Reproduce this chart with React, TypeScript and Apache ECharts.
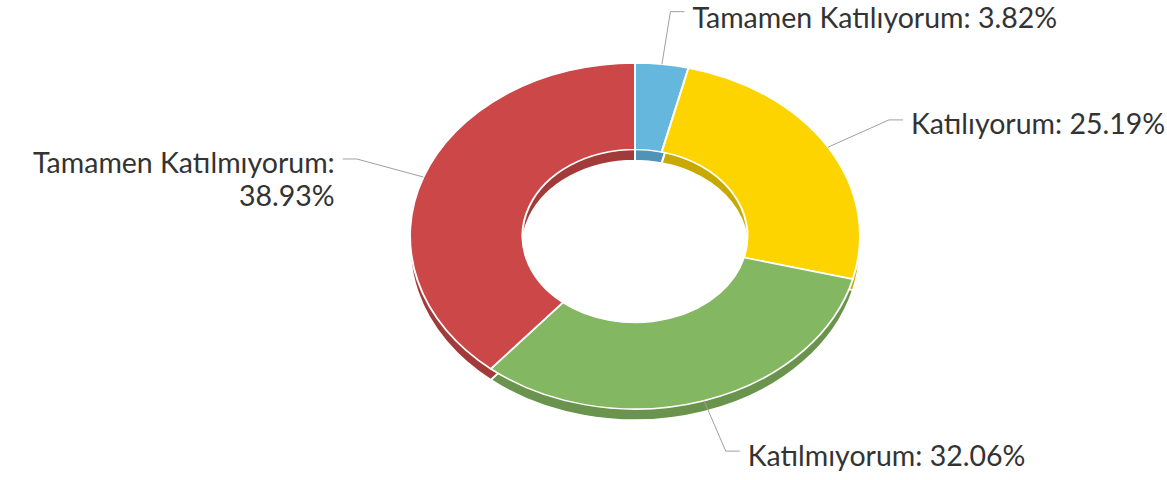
import React, { useEffect, useRef } from "react";
import * as echarts from "echarts";

const categories = ["Tamamen Katılıyorum", "Katılıyorum", "Katılmıyorum", "Tamamen Katılmıyorum"];
const values = [3.82, 25.19, 32.06, 38.93];
const topColors = ["#65b7de", "#fdd400", "#84b761", "#cc4748"];
const sideColors = ["#4f94b6", "#c9a900", "#6a944e", "#a33a3a"];

const W = 1167;
const H = 480;
const CX = 635;
const CY = 236;
const RX = 225;
const RY = 173;
const INNER = 0.5;
const DEPTH = 11;
const LRX = 296;
const LRY = 226;
const SEG = 14;
const GAP = 8;
const FONT_SIZE = 28.5;
const LINE_H = 33;
const FONT_FAMILY = "Lato";

const total = values.reduce((a, b) => a + b, 0);
const starts: number[] = [];
{
  let acc = 0;
  for (const v of values) {
    starts.push(acc);
    acc += v;
  }
}

let measureCtx: CanvasRenderingContext2D | null = null;
function measure(t: string): number {
  if (!measureCtx) {
    measureCtx = document.createElement("canvas").getContext("2d");
  }
  if (!measureCtx) return t.length * FONT_SIZE * 0.5;
  measureCtx.font = `${FONT_SIZE}px ${FONT_FAMILY}`;
  return measureCtx.measureText(t).width;
}

function wrap(t: string, avail: number): string {
  if (measure(t) <= avail) return t;
  const words = t.split(" ");
  const lines: string[] = [];
  let cur = "";
  for (const w of words) {
    const next = cur ? cur + " " + w : w;
    if (cur && measure(next) > avail) {
      lines.push(cur);
      cur = w;
    } else {
      cur = next;
    }
  }
  if (cur) lines.push(cur);
  return lines.join("\n");
}

function angles(i: number) {
  const a0 = (starts[i] / total) * Math.PI * 2;
  const a1 = ((starts[i] + values[i]) / total) * Math.PI * 2;
  return { a0, a1 };
}

function sectorGroup(i: number, offset: number, fill: string) {
  const { a0, a1 } = angles(i);
  const k = RY / RX;
  return {
    type: "group",
    x: CX,
    y: CY + offset,
    scaleY: k,
    children: [
      {
        type: "sector",
        shape: {
          cx: 0,
          cy: 0,
          r: RX,
          r0: RX * INNER,
          startAngle: -Math.PI / 2 + a0,
          endAngle: -Math.PI / 2 + a1,
          clockwise: true,
        },
        style: { fill, stroke: "#ffffff", lineWidth: 2, strokeNoScale: true },
      },
    ],
  };
}

export default function App() {
  const ref = useRef<HTMLDivElement>(null);
  useEffect(() => {
    if (!ref.current) return;
    const chart = echarts.init(ref.current, undefined, { renderer: "svg" });
    const data = values.map((v, i) => ({ name: categories[i], value: v }));
    chart.setOption({
      animation: false,
      series: [
        {
          type: "custom",
          coordinateSystem: "none",
          z: 1,
          silent: true,
          data,
          renderItem: (params: any) => sectorGroup(params.dataIndex, DEPTH, sideColors[params.dataIndex]),
        },
        {
          type: "custom",
          coordinateSystem: "none",
          z: 2,
          silent: true,
          data,
          renderItem: (params: any) => {
            const i = params.dataIndex;
            const { a0, a1 } = angles(i);
            const mid = (a0 + a1) / 2;
            const s = Math.sin(mid);
            const c = Math.cos(mid);
            const edge = [CX + RX * s, CY - RY * c];
            const elbow = [CX + LRX * s, CY - LRY * c];
            const right = s >= 0;
            const end = [elbow[0] + (right ? SEG : -SEG), elbow[1]];
            const tx = end[0] + (right ? GAP : -GAP);
            const avail = right ? W - tx + 4 : tx - 8;
            const text = wrap(`${categories[i]}: ${values[i].toFixed(2)}%`, avail);
            return {
              type: "group",
              children: [
                sectorGroup(i, 0, topColors[i]),
                {
                  type: "polyline",
                  shape: { points: [edge, elbow, end] },
                  style: { stroke: "#a0a0a0", lineWidth: 1, fill: null },
                },
                {
                  type: "text",
                  x: tx,
                  y: Math.max(0, elbow[1] - 13),
                  style: {
                    text,
                    fill: "#333333",
                    fontSize: FONT_SIZE,
                    fontFamily: FONT_FAMILY,
                    fontWeight: 400,
                    lineHeight: LINE_H,
                    align: right ? "left" : "right",
                    verticalAlign: "top",
                  },
                },
              ],
            };
          },
        },
      ],
    });
    return () => chart.dispose();
  }, []);
  return (
    <div
      ref={ref}
      style={{ position: "fixed", left: 0, top: 0, width: W, height: H, background: "#ffffff" }}
    />
  );
}
